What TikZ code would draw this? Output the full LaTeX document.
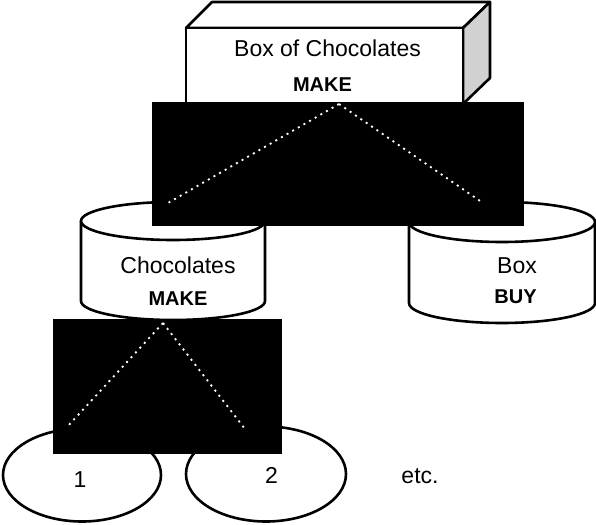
\documentclass[tikz,border=0pt]{standalone}
\usepackage{fontspec}
\setmainfont{Liberation Sans}
\usetikzlibrary{shapes.geometric}
\begin{document}
\begin{tikzpicture}[x=1pt,y=-1pt,
  outl/.style={draw=black,line width=2.6pt,line join=round},
  reg/.style={font=\fontsize{23}{27}\selectfont,inner sep=0pt,anchor=base},
  bld/.style={font=\fontsize{20}{24}\selectfont\bfseries,inner sep=0pt,anchor=base},
  blackbox/.style={fill=black,draw=none},
  dotline/.style={draw=white,line width=1.8pt,dash pattern=on 2pt off 4.5pt},
  oval/.style={ellipse,draw=black,line width=2.6pt,fill=white,inner sep=0pt}]
\useasboundingbox (0,0) rectangle (596,524);
% top box
\draw[outl,fill=white] (186,28) -- (212,2) -- (490,2) -- (463,28) -- cycle;
\draw[outl,fill=black!18] (463,28) -- (490,2) -- (490,78) -- (463,104) -- cycle;
\draw[outl,fill=white] (186,28) rectangle (463,104);
\node[reg] (t1) at (327.5,57) {Box of Chocolates};
\node[bld] (t2) at (322.5,92) {MAKE};
% left cylinder
\draw[outl,fill=white] (81,221) -- (81,301) arc[start angle=180,end angle=0,x radius=92,y radius=19] -- (265,221);
\draw[outl,fill=white] (173,221) ellipse[x radius=92,y radius=19];
\node[reg] (c1) at (178,273) {Chocolates};
\node[bld] (c2) at (178,305) {MAKE};
% right cylinder
\draw[outl,fill=white] (409,222) -- (409,303) arc[start angle=180,end angle=0,x radius=93,y radius=20] -- (595,222);
\draw[outl,fill=white] (502,222) ellipse[x radius=93,y radius=20];
\node[reg] (b1) at (517,273) {Box};
\node[bld] (b2) at (515.5,303) {BUY};
% bottom ovals
\node[oval,minimum width=158pt,minimum height=93pt] (o1) at (82,475) {};
\node[oval,minimum width=160pt,minimum height=95pt] (o2) at (266,474) {};
\node[reg] (n1) at (80,487) {1};
\node[reg] (n2) at (271.5,483) {2};
\node[reg] (etc) at (420,483) {etc.};
% black rectangles
\fill[blackbox] (152,102) rectangle (524,226);
\fill[blackbox] (53,319) rectangle (282,454);
% dotted connectors
\coordinate (apexA) at (339,104);
\coordinate (endAL) at (168,203);
\coordinate (endAR) at (483,203);
\coordinate (apexB) at (163,323);
\coordinate (endBL) at (67,427);
\coordinate (endBR) at (245,429);
\draw[dotline] (apexA) -- (endAL);
\draw[dotline] (apexA) -- (endAR);
\draw[dotline] (apexB) -- (endBL);
\draw[dotline] (apexB) -- (endBR);
\end{tikzpicture}
\end{document}
